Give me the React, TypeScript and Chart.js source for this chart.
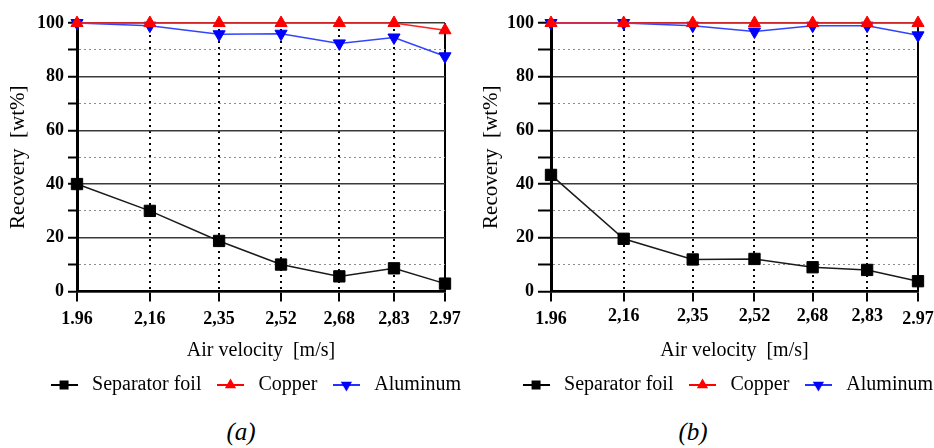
import React, { useEffect, useRef } from 'react';
import { Chart, registerables } from 'chart.js';

Chart.register(...registerables);

// ---- data ----
const airVelocity = [1.96, 2.16, 2.35, 2.52, 2.68, 2.83, 2.97];
const tickLabels = ['1.96', '2,16', '2,35', '2,52', '2,68', '2,83', '2.97'];
const seriesLabels = ['Separator foil', 'Copper', 'Aluminum'];
const yTitle = 'Recovery  [wt%]';
const xTitle = 'Air velocity  [m/s]';

const separatorA = [40, 30, 18.8, 10, 5.6, 8.6, 2.9];
const copperA = [100, 100, 100, 100, 100, 100, 97.3];
const aluminumA = [100, 99, 95.8, 96, 92.4, 94.6, 87.6];

const separatorB = [43.4, 19.6, 11.9, 12.1, 9, 8, 3.8];
const copperB = [100, 100, 100, 100, 100, 100, 100];
const aluminumB = [100, 100, 99, 96.8, 99, 99, 95.4];

const FONT = "'Liberation Serif', 'Times New Roman', Times, serif";

function makeIcon(kind: 'square' | 'up' | 'down', fill: string, line: string) {
  const c = document.createElement('canvas');
  c.width = 27;
  c.height = 14;
  const g = c.getContext('2d')!;
  g.strokeStyle = line;
  g.lineWidth = 2;
  g.beginPath();
  g.moveTo(0, 7);
  g.lineTo(27, 7);
  g.stroke();
  g.fillStyle = fill;
  const cx = 13.5, cy = 7, r = 6.5;
  if (kind === 'square') {
    g.fillRect(cx - 4.5, cy - 4.5, 9, 9);
  } else {
    const s = kind === 'up' ? 1 : -1;
    g.beginPath();
    g.moveTo(cx, cy - s * r);
    g.lineTo(cx + r * 0.866, cy + s * r * 0.5);
    g.lineTo(cx - r * 0.866, cy + s * r * 0.5);
    g.closePath();
    g.fill();
  }
  return c;
}

type Params = {
  yWidth: number;
  rightW: number;
  yTick: number;
  yTickPad: number;
  yTitlePad: number;
  stagger: boolean;
};

function buildConfig(sep: number[], cu: number[], al: number[], p: Params): any {
  const pts = (arr: number[]) => airVelocity.map((x, i) => ({ x, y: arr[i] }));
  const icons = [
    makeIcon('square', '#000000', '#000000'),
    makeIcon('up', '#ff0000', '#ff0000'),
    makeIcon('down', '#0000ff', '#2233ff'),
  ];
  const last = airVelocity.length - 1;
  return {
    type: 'line',
    data: {
      datasets: [
        {
          label: seriesLabels[0],
          data: pts(sep),
          borderColor: '#1a1a1a',
          borderWidth: 1.5,
          pointStyle: 'rect',
          pointRadius: 8,
          pointBackgroundColor: '#000',
          pointBorderColor: '#000',
          pointBorderWidth: 1,
          clip: false,
        },
        {
          label: seriesLabels[1],
          data: pts(cu),
          borderColor: '#ff2020',
          borderWidth: 1.5,
          pointStyle: 'triangle',
          pointRadius: 7,
          pointBackgroundColor: '#ff0000',
          pointBorderColor: '#ff0000',
          pointBorderWidth: 1,
          clip: false,
        },
        {
          label: seriesLabels[2],
          data: pts(al),
          borderColor: '#3344ff',
          borderWidth: 1.5,
          pointStyle: 'triangle',
          rotation: 180,
          pointRotation: 180,
          pointRadius: 7,
          pointBackgroundColor: '#0000ff',
          pointBorderColor: '#0000ff',
          pointBorderWidth: 1,
          clip: false,
        },
      ],
    },
    options: {
      responsive: false,
      animation: false,
      events: [],
      layout: { padding: { top: 23, left: 0, right: 0, bottom: 0 } },
      plugins: {
        tooltip: { enabled: false },
        legend: {
          position: 'bottom',
          align: 'end',
          labels: {
            usePointStyle: true,
            pointStyleWidth: 36,
            padding: 11,
            color: '#000',
            font: { family: FONT, size: 20 },
            generateLabels: (chart: any) =>
              chart.data.datasets.map((ds: any, i: number) => ({
                text: ds.label,
                pointStyle: icons[i],
                fillStyle: 'transparent',
                strokeStyle: 'transparent',
                lineWidth: 0,
                hidden: false,
                datasetIndex: i,
                fontColor: '#000',
              })),
          },
        },
      },
      scales: {
        x: {
          type: 'linear',
          min: airVelocity[0],
          max: airVelocity[last],
          afterBuildTicks: (s: any) => {
            s.ticks = airVelocity.map((v) => ({ value: v }));
          },
          ticks: {
            autoSkip: false,
            maxRotation: 0,
            padding: 7,
            color: '#000',
            font: (ctx: any) => ({
              family: FONT,
              size: 18,
              weight: 'bold',
              lineHeight: p.stagger && ctx.index > 0 && ctx.index < last ? 0.85 : 1.2,
            }),
            callback: (_v: any, i: number) => tickLabels[i],
          },
          grid: {
            display: true,
            drawOnChartArea: true,
            drawTicks: true,
            tickLength: 10,
            color: '#000',
            lineWidth: 2,
            tickColor: '#000',
            tickWidth: 2,
            tickBorderDash: [],
          },
          border: {
            display: true,
            color: '#000',
            width: 2.5,
            dash: (ctx: any) => (ctx.tick && ctx.index < last ? [2, 4] : []),
          },
          title: {
            display: true,
            text: xTitle,
            color: '#000',
            font: { family: FONT, size: 20 },
            padding: { top: 2, bottom: 1 },
          },
        },
        y: {
          type: 'linear',
          min: 0,
          max: 100,
          ticks: {
            stepSize: 10,
            autoSkip: false,
            padding: p.yTickPad,
            color: '#000',
            font: { family: FONT, size: 18, weight: 'bold' },
            callback: (v: any) => (Number(v) % 20 === 0 ? String(v) : ''),
          },
          grid: {
            display: true,
            drawOnChartArea: true,
            drawTicks: true,
            tickLength: p.yTick,
            color: (ctx: any) => (ctx.tick && ctx.tick.value % 20 === 0 ? '#3a3a3a' : '#8c8c8c'),
            lineWidth: (ctx: any) => (ctx.tick && ctx.tick.value % 20 === 0 ? 1.5 : 1),
            tickColor: '#000',
            tickWidth: 2,
            tickBorderDash: [],
          },
          border: {
            display: true,
            color: '#000',
            width: 3,
            dash: (ctx: any) => (ctx.tick && ctx.tick.value % 20 !== 0 ? [2, 3] : []),
          },
          title: {
            display: true,
            text: yTitle,
            color: '#000',
            font: { family: FONT, size: 21 },
            padding: p.yTitlePad,
          },
          afterFit: (s: any) => {
            s.width = p.yWidth;
          },
        },
        y2: {
          type: 'linear',
          position: 'right',
          display: true,
          grid: { display: false, drawTicks: false },
          border: { display: false },
          ticks: { display: false },
          afterFit: (s: any) => {
            s.width = p.rightW;
          },
        },
      },
    },
  };
}

const captionStyle = (center: number): React.CSSProperties => ({
  position: 'absolute',
  left: center - 50,
  width: 100,
  top: 417,
  height: 30,
  lineHeight: '30px',
  textAlign: 'center',
  fontFamily: FONT,
  fontStyle: 'italic',
  fontSize: 25,
  color: '#000',
});

export default function App() {
  const refA = useRef<HTMLCanvasElement>(null);
  const refB = useRef<HTMLCanvasElement>(null);

  useEffect(() => {
    const a = new Chart(
      refA.current!,
      buildConfig(separatorA, copperA, aluminumA, {
        yWidth: 77,
        rightW: 27,
        yTick: 9,
        yTickPad: 4,
        yTitlePad: 6,
        stagger: false,
      })
    );
    const b = new Chart(
      refB.current!,
      buildConfig(separatorB, copperB, aluminumB, {
        yWidth: 84,
        rightW: 26,
        yTick: 13,
        yTickPad: 4,
        yTitlePad: 12,
        stagger: true,
      })
    );
    return () => {
      a.destroy();
      b.destroy();
    };
  }, []);

  return (
    <div
      style={{
        position: 'absolute',
        left: 0,
        top: 0,
        width: 934,
        height: 448,
        overflow: 'hidden',
        background: '#fff',
      }}
    >
      <canvas
        ref={refA}
        width={472}
        height={405}
        style={{ position: 'absolute', left: 0, top: 0, width: 472, height: 405 }}
      />
      <canvas
        ref={refB}
        width={477}
        height={405}
        style={{ position: 'absolute', left: 467, top: 0, width: 477, height: 405 }}
      />
      <div style={captionStyle(241)}>(a)</div>
      <div style={captionStyle(693)}>(b)</div>
    </div>
  );
}
